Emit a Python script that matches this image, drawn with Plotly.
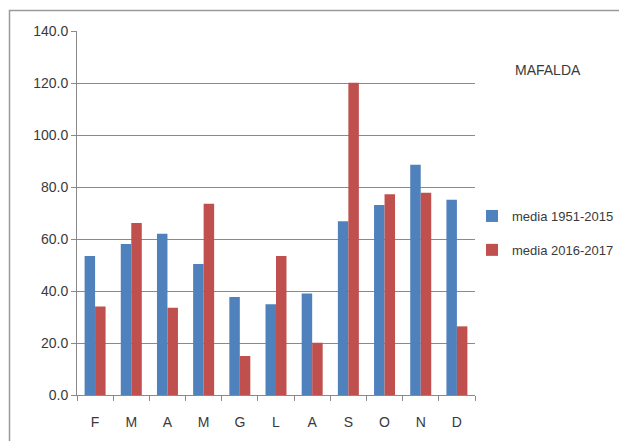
import plotly.graph_objects as go

months = ["F", "M", "A", "M", "G", "L", "A", "S", "O", "N", "D"]
media_1951_2015 = [53.5, 58.1, 62.0, 50.4, 37.7, 34.9, 39.0, 66.8, 73.1, 88.6, 75.1]
media_2016_2017 = [34.0, 66.2, 33.6, 73.6, 15.0, 53.5, 20.1, 120.1, 77.2, 77.8, 26.4]
y_ticks = [0, 20, 40, 60, 80, 100, 120, 140]

pos = list(range(len(months)))
FONT = "Liberation Sans"
TXT = "#3a3a3a"
GRID = "#8a8a8a"

# page body has an 8px margin: work in screen pixels, then shift
OFF = 8
W, H = 627 - OFF, 441 - OFF
L, T = 77 - OFF, 31 - OFF
R = W - (475 - OFF)
B = H - (395 - OFF)
pw, ph = W - L - R, H - T - B

def px_x(p):
    return (p - OFF - L) / pw

def px_y(p):
    return (H - B - (p - OFF)) / ph

fig = go.Figure()
fig.add_trace(go.Bar(x=pos, y=media_1951_2015, name="media 1951-2015",
                     marker=dict(color="#4F81BD", line=dict(width=0)),
                     legendgroup="a"))
fig.add_trace(go.Bar(x=pos, y=media_2016_2017, name="media 2016-2017",
                     marker=dict(color="#C0504D", line=dict(width=0)),
                     legendgroup="b"))

fig.update_layout(
    width=W, height=H,
    margin=dict(l=L, r=R, t=T, b=B, pad=0, autoexpand=False),
    paper_bgcolor="white", plot_bgcolor="white",
    font=dict(family=FONT, size=14, color=TXT),
    barmode="group", bargap=0.42, bargroupgap=0,
    showlegend=True,
    legend=dict(x=px_x(472), xanchor="left", y=px_y(201), yanchor="top",
                traceorder="grouped", tracegroupgap=14,
                font=dict(family=FONT, size=13, color=TXT),
                bgcolor="rgba(0,0,0,0)"),
    xaxis=dict(range=[-0.5, len(months) - 0.5], tickvals=pos, ticktext=months,
               ticks="", showgrid=False, showline=True, linecolor=GRID, linewidth=1,
               ticklabelstandoff=14, zeroline=False,
               minor=dict(tickvals=[i - 0.5 for i in range(len(months) + 1)],
                          ticks="outside", ticklen=5, tickcolor=GRID, showgrid=False),
               tickfont=dict(family=FONT, size=14, color=TXT)),
    yaxis=dict(range=[0, 140], tickvals=y_ticks, tickformat=".1f",
               showgrid=True, gridcolor=GRID, gridwidth=1,
               showline=True, linecolor=GRID, linewidth=1,
               ticks="outside", ticklen=5, tickcolor=GRID,
               zeroline=False, tickfont=dict(family=FONT, size=14, color=TXT)),
    annotations=[dict(text="MAFALDA", xref="paper", yref="paper",
                      x=px_x(513), y=px_y(70), xanchor="left", yanchor="middle",
                      showarrow=False, font=dict(family=FONT, size=14, color=TXT))],
    shapes=[dict(type="rect", xref="paper", yref="paper",
                 x0=px_x(9.5), y0=px_y(10.5), x1=px_x(700), y1=px_y(520),
                 line=dict(color="#9a9a9a", width=1.5), layer="below")],
)

fig.write_html("out.html")
